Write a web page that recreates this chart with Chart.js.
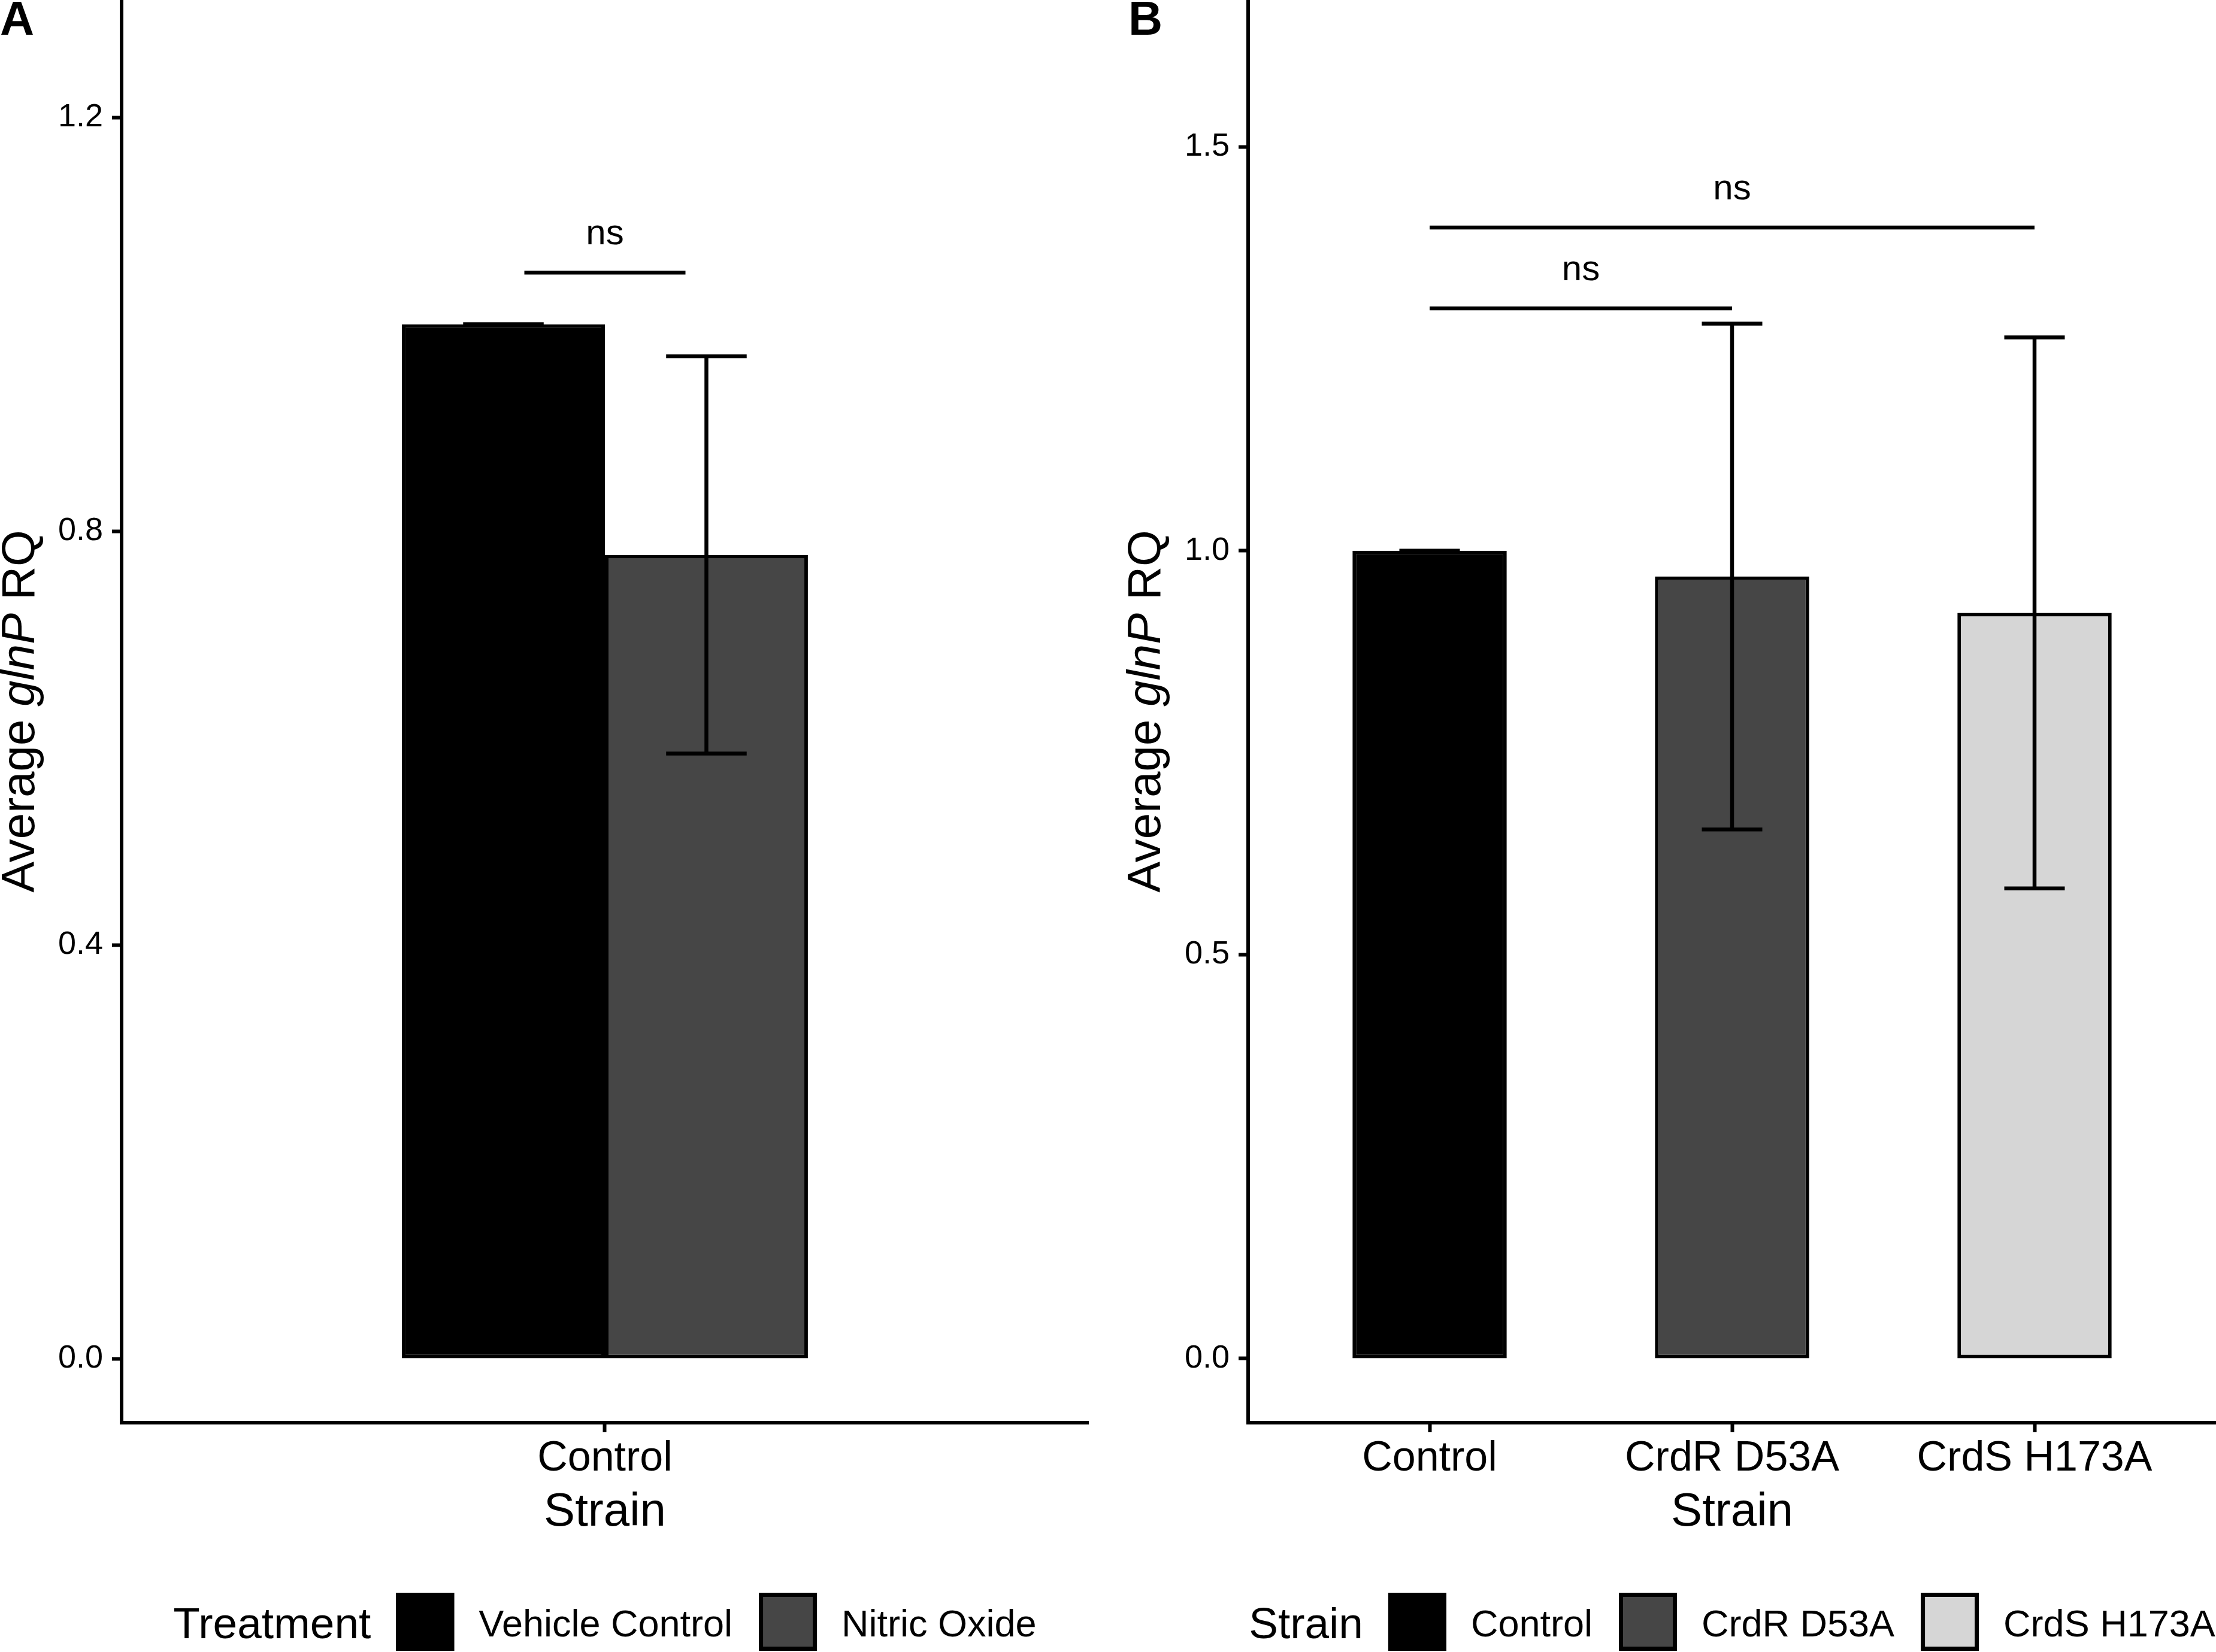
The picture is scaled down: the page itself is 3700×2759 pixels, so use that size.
<!DOCTYPE html>
<html><head><meta charset="utf-8">
<script src="https://cdn.jsdelivr.net/npm/chart.js@4.4.1/dist/chart.umd.min.js"></script>
<style>
html,body{margin:0;padding:0;background:#fff;}
#wrap{position:relative;width:3700px;height:2759px;overflow:hidden;background:#fff;}
canvas{position:absolute;top:0;}
#cA{left:0;} #cB{left:1850px;}
</style></head><body>
<div id="wrap"><canvas id="cA" width="1850" height="2759"></canvas><canvas id="cB" width="1850" height="2759"></canvas></div>
<script>
// ---------- Panel A data ----------
const strainsA = ['Control'];
const treatmentsA = ['Vehicle Control', 'Nitric Oxide'];
const vehicleMeanA = [1.0];
const vehicleSdA = [0.0];
const nitricMeanA = [0.777];
const nitricSdA = [0.192];
const treatmentColorsA = ['#000000', '#464646'];
const yTicksA = [0, 0.4, 0.8, 1.2];
const sigLabelA = ['ns'];
const sigFromA = [0.9];
const sigToA = [1.1];
const sigYA = [1.05];

// ---------- Panel B data ----------
const strainsB = ['Control', 'CrdR D53A', 'CrdS H173A'];
const meanB = [1.0, 0.968, 0.923];
const sdB = [0.0, 0.313, 0.341];
const strainColorsB = ['#000000', '#464646', '#D6D6D6'];
const yTicksB = [0, 0.5, 1.0, 1.5];
const sigLabelB = ['ns', 'ns'];
const sigFromB = [1, 1];
const sigToB = [2, 3];
const sigYB = [1.30, 1.40];

const FAM = "'Liberation Sans', Arial, Helvetica, sans-serif";

function errorBarPlugin(sets, capWidth) {
  return {
    id: 'errbars',
    afterDatasetsDraw(chart) {
      const ctx = chart.ctx, xs = chart.scales.x, ys = chart.scales.y;
      const half = Math.abs(xs.getPixelForValue(1 + capWidth / 2) - xs.getPixelForValue(1));
      ctx.save();
      ctx.strokeStyle = '#000';
      ctx.lineWidth = 6.5;
      ctx.lineCap = 'butt';
      sets.forEach(s => {
        const meta = chart.getDatasetMeta(s.dataset);
        s.means.forEach((m, i) => {
          const el = meta.data[i];
          const x = el.x;
          const yt = ys.getPixelForValue(m + s.sd[i]);
          const yb = ys.getPixelForValue(m - s.sd[i]);
          ctx.beginPath();
          ctx.moveTo(x, yt); ctx.lineTo(x, yb);
          ctx.moveTo(x - half, yt); ctx.lineTo(x + half, yt);
          ctx.moveTo(x - half, yb); ctx.lineTo(x + half, yb);
          ctx.stroke();
        });
      });
      ctx.restore();
    }
  };
}

function sigPlugin(labels, from, to, yv) {
  return {
    id: 'sig',
    afterDatasetsDraw(chart) {
      const ctx = chart.ctx, xs = chart.scales.x, ys = chart.scales.y;
      ctx.save();
      ctx.strokeStyle = '#000';
      ctx.fillStyle = '#000';
      ctx.lineWidth = 6.5;
      ctx.font = '60px ' + FAM;
      ctx.textAlign = 'center';
      ctx.textBaseline = 'alphabetic';
      labels.forEach((lab, k) => {
        const x1 = xs.getPixelForValue(from[k]);
        const x2 = xs.getPixelForValue(to[k]);
        const y = ys.getPixelForValue(yv[k]);
        ctx.beginPath(); ctx.moveTo(x1, y); ctx.lineTo(x2, y); ctx.stroke();
        ctx.fillText(lab, (x1 + x2) / 2, y - 47);
      });
      ctx.restore();
    }
  };
}

function decorPlugin(cfg) {
  return {
    id: 'decor',
    afterDraw(chart) {
      const ctx = chart.ctx, ca = chart.chartArea;
      ctx.save();
      ctx.fillStyle = '#000';
      // panel letter
      ctx.font = 'bold 79px ' + FAM;
      ctx.textAlign = 'left';
      ctx.textBaseline = 'alphabetic';
      ctx.fillText(cfg.letter, cfg.letterX, 58);
      // y title with italic gene name
      const parts = [['Average ', ''], ['glnP', 'italic '], [' RQ', '']];
      let total = 0;
      parts.forEach(p => { ctx.font = p[1] + '78px ' + FAM; total += ctx.measureText(p[0]).width; });
      ctx.save();
      ctx.translate(cfg.titleBaselineX, (ca.top + ca.bottom) / 2);
      ctx.rotate(-Math.PI / 2);
      let cx = -total / 2;
      parts.forEach(p => {
        ctx.font = p[1] + '78px ' + FAM;
        ctx.fillText(p[0], cx, 0);
        cx += ctx.measureText(p[0]).width;
      });
      ctx.restore();
      // legend
      const key = 97, gapTK = 42, gapKL = 41, gapLK = 44;
      ctx.font = '73px ' + FAM;
      const tW = ctx.measureText(cfg.legendTitle).width;
      ctx.font = '63px ' + FAM;
      const lw = cfg.items.map(it => ctx.measureText(it.label).width);
      let w = tW;
      lw.forEach((v, i) => { w += (i === 0 ? gapTK : gapLK) + key + gapKL + v; });
      let x = (ca.left + ca.right) / 2 - w / 2;
      ctx.font = '73px ' + FAM;
      ctx.fillText(cfg.legendTitle, x, 2736);
      x += tW;
      ctx.font = '63px ' + FAM;
      cfg.items.forEach((it, i) => {
        x += (i === 0 ? gapTK : gapLK);
        ctx.fillStyle = it.color;
        ctx.fillRect(x, 2660, key, key);
        ctx.strokeStyle = '#000';
        ctx.lineWidth = 7;
        ctx.strokeRect(x + 3.5, 2660 + 3.5, key - 7, key - 7);
        x += key + gapKL;
        ctx.fillStyle = '#000';
        ctx.fillText(it.label, x, 2733);
        x += lw[i];
      });
      ctx.restore();
    }
  };
}

function xScale(cats, maxV, pad, titleBottomPad) {
  return {
    type: 'linear', min: 0.4, max: maxV, offset: false,
    grid: { display: true, drawOnChartArea: false, drawTicks: true, tickLength: 16, tickWidth: 6, tickColor: '#000', offset: false },
    border: { display: true, color: '#000', width: 6 },
    ticks: { autoSkip: false, maxRotation: 0, minRotation: 0, padding: pad, color: '#000',
      font: { family: FAM, size: 70, lineHeight: 1 },
      callback: (v) => cats[Math.round(v) - 1] },
    afterBuildTicks: (s) => { s.ticks = cats.map((c, i) => ({ value: i + 1 })); },
    afterFit: (s) => { s.height = 383; s.paddingLeft = 0; s.paddingRight = 0; },
    title: { display: true, text: 'Strain', color: '#000', font: { family: FAM, size: 78, lineHeight: 1 }, padding: { top: 0, bottom: titleBottomPad } }
  };
}

function yScale(ticksArr, mn, mx, width) {
  return {
    type: 'linear', min: mn, max: mx,
    grid: { display: true, drawOnChartArea: false, drawTicks: true, tickLength: 16, tickWidth: 6, tickColor: '#000' },
    border: { display: true, color: '#000', width: 6 },
    ticks: { padding: 15, color: '#000', font: { family: FAM, size: 54 },
      callback: (v) => Number(v).toFixed(1) },
    afterBuildTicks: (s) => { s.ticks = ticksArr.map(v => ({ value: v })); },
    afterFit: (s) => { s.width = width; s.paddingTop = 0; s.paddingBottom = 0; }
  };
}

// ---------- Chart A ----------
new Chart(document.getElementById('cA'), {
  type: 'bar',
  data: {
    datasets: [
      { label: treatmentsA[0], data: vehicleMeanA.map((v, i) => ({ x: i + 1, y: v })),
        backgroundColor: treatmentColorsA[0], borderColor: '#000', borderWidth: 6, borderSkipped: false },
      { label: treatmentsA[1], data: nitricMeanA.map((v, i) => ({ x: i + 1, y: v })),
        backgroundColor: treatmentColorsA[1], borderColor: '#000', borderWidth: 6, borderSkipped: false }
    ]
  },
  options: {
    responsive: false, animation: false, devicePixelRatio: 1,
    layout: { padding: { left: 0, right: 33, top: 0, bottom: 0 } },
    categoryPercentage: 0.42, barPercentage: 1,
    plugins: { legend: { display: false }, tooltip: { enabled: false } },
    scales: {
      x: xScale(strainsA, 1.6, 10, 194),
      y: yScale(yTicksA, -0.0619, 1.3135, 203)
    }
  },
  plugins: [
    errorBarPlugin([{ dataset: 0, means: vehicleMeanA, sd: vehicleSdA }, { dataset: 1, means: nitricMeanA, sd: nitricSdA }], 0.1),
    sigPlugin(sigLabelA, sigFromA, sigToA, sigYA),
    decorPlugin({ letter: 'A', letterX: 0, titleBaselineX: 57, legendTitle: 'Treatment',
      items: treatmentsA.map((t, i) => ({ label: t, color: treatmentColorsA[i] })) })
  ]
});

// ---------- Chart B ----------
new Chart(document.getElementById('cB'), {
  type: 'bar',
  data: {
    datasets: [
      { label: 'Strain', data: meanB.map((v, i) => ({ x: i + 1, y: v })),
        backgroundColor: strainColorsB, borderColor: '#000', borderWidth: 6, borderSkipped: false }
    ]
  },
  options: {
    responsive: false, animation: false, devicePixelRatio: 1,
    layout: { padding: { left: 0, right: 0, top: 0, bottom: 0 } },
    categoryPercentage: 0.51, barPercentage: 1,
    plugins: { legend: { display: false }, tooltip: { enabled: false } },
    scales: {
      x: xScale(strainsB, 3.6, 10, 194),
      y: yScale(yTicksB, -0.0793, 1.6816, 234)
    }
  },
  plugins: [
    errorBarPlugin([{ dataset: 0, means: meanB, sd: sdB }], 0.2),
    sigPlugin(sigLabelB, sigFromB, sigToB, sigYB),
    decorPlugin({ letter: 'B', letterX: 34, titleBaselineX: 87, legendTitle: 'Strain',
      items: strainsB.map((t, i) => ({ label: t, color: strainColorsB[i] })) })
  ]
});
</script>
</body></html>
